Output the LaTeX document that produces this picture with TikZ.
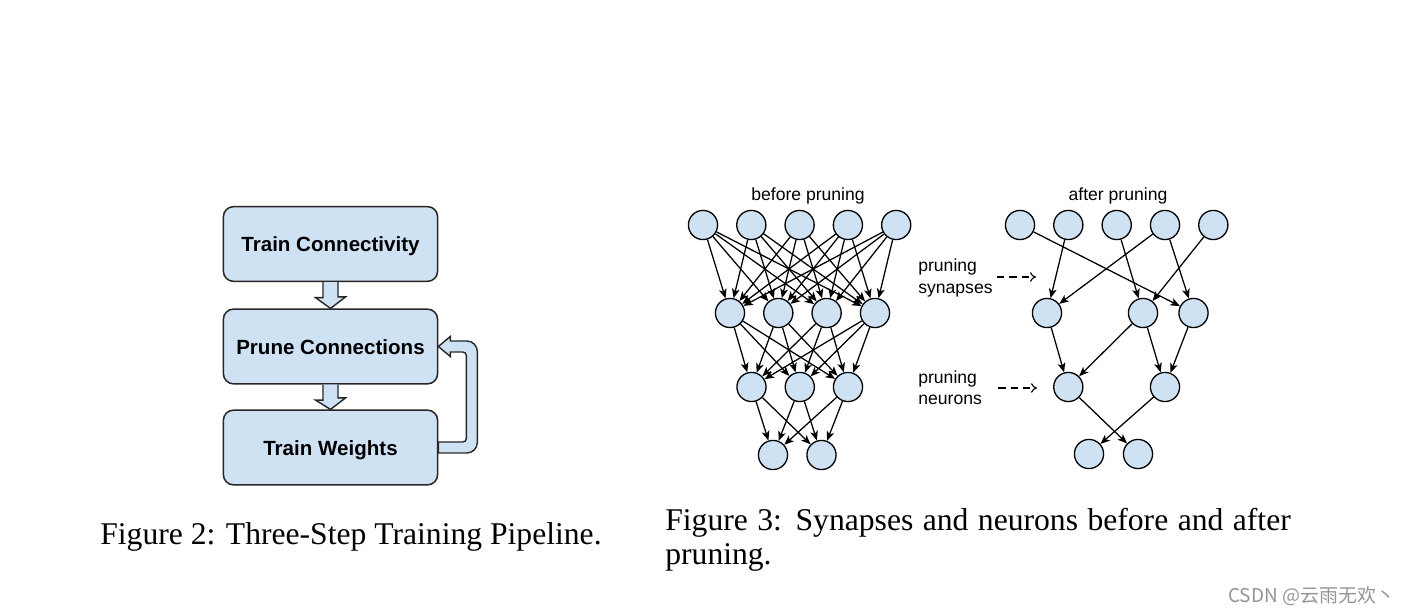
\documentclass[tikz,border=0pt]{standalone}
\usepackage{fontspec}
\setmainfont{Liberation Serif}
\setsansfont{Liberation Sans}
\newfontfamily\cjkfont{Noto Sans CJK SC}
\usetikzlibrary{arrows.meta, calc}
\definecolor{cellblue}{RGB}{207,226,243}

\begin{document}
\begin{tikzpicture}[x=0.02cm, y=-0.02cm, >={Stealth[length=5.4pt, width=4.4pt, inset=1.4pt]},
  stage/.style={draw=black!85, line width=0.85pt, fill=cellblue, rounded corners=5.7pt, minimum width=121.9pt, minimum height=42.5pt, inner sep=0pt, text height=8.6pt, text depth=0pt, font=\sffamily\bfseries\fontsize{11.7}{14}\selectfont},
  blockarrow/.style={draw=black!85, line width=0.8pt, fill=cellblue, line join=miter},
  neuron/.style={circle, draw, line width=0.75pt, fill=cellblue, minimum size=16.6pt, inner sep=0pt},
  syn/.style={->, line width=0.72pt},
  note/.style={inner sep=0pt, align=left, font=\sffamily\fontsize{10}{12}\selectfont},
  hint/.style={-{To[length=3.4pt, width=5.4pt]}, line width=0.65pt, dash pattern=on 4.2pt off 2.8pt},
  caption/.style={inner sep=0pt, font=\fontsize{18}{19.3}\selectfont}]

\useasboundingbox (0,0) rectangle (1404,614);

% three-step pipeline
\node[stage] (connect) at (330.5,244) {Train Connectivity};
\node[stage] (prune) at (330.5,346.5) {Prune Connections};
\node[stage] (weights) at (330.5,447.5) {Train Weights};

\draw[blockarrow] ($(connect.south)+(-7.5,0)$) -- ++(0,15.5) -- ++(-7.5,0) -- (prune.north) -- ++(15,-11.5) -- ++(-7.5,0) -- ($(connect.south)+(7.5,0)$); %step 1 -> 2
\draw[blockarrow] ($(prune.south)+(-7.5,0)$) -- ++(0,15.5) -- ++(-7.5,0) -- (weights.north) -- ++(15,-11.5) -- ++(-7.5,0) -- ($(prune.south)+(7.5,0)$); %step 2 -> 3

\draw[blockarrow] (prune.east) -- ++(12,-10) -- ++(0,4.5) [rounded corners=6pt] -- ($(prune.east)+(39,-5.5)$) -- ($(weights.east)+(39,5.5)$) [sharp corners] -- ($(weights.east)+(0,5.5)$) -- ($(weights.east)+(0,-5.5)$) [rounded corners=2pt] -- ($(weights.east)+(28,-5.5)$) -- ($(prune.east)+(28,5.5)$) [sharp corners] -- ($(prune.east)+(12,5.5)$) -- ++(0,4.5) -- cycle; %iterate

\node[caption, anchor=base west] (capleft) at (100,545) {Figure 2: Three-Step Training Pipeline.};

% before pruning
\node[note, anchor=base] (before) at (808,201) {before pruning};
\foreach \x [count=\i] in {703,751.3,799.6,847.9,896.2} \node[neuron] (b1\i) at (\x,225) {};
\foreach \x [count=\i] in {730,778.3,826.6,875} \node[neuron] (b2\i) at (\x,313) {};
\foreach \x [count=\i] in {751.5,799.8,848} \node[neuron] (b3\i) at (\x,387) {};
\foreach \x [count=\i] in {773,821.5} \node[neuron] (b4\i) at (\x,455) {};

\foreach \i in {1,...,5} \foreach \j in {1,...,4} \draw[syn] (b1\i) -- (b2\j);
\foreach \i in {1,...,4} \foreach \j in {1,...,3} \draw[syn] (b2\i) -- (b3\j);
\foreach \i in {1,...,3} \foreach \j in {1,2} \draw[syn] (b3\i) -- (b4\j);

% after pruning
\node[note, anchor=base] (after) at (1118,201) {after pruning};
\foreach \x [count=\i] in {1020,1068.3,1116.7,1165,1213.3} \node[neuron] (a1\i) at (\x,225) {};
\foreach \x [count=\i] in {1047,1143,1193.5} \node[neuron] (a2\i) at (\x,313) {};
\foreach \x [count=\i] in {1068.3,1165} \node[neuron] (a3\i) at (\x,387) {};
\foreach \x [count=\i] in {1089,1138} \node[neuron] (a4\i) at (\x,454) {};

\foreach \i/\j in {1/3,2/1,3/2,4/1,4/3,5/2} \draw[syn] (a1\i) -- (a2\j);
\foreach \i/\j in {1/1,2/1,2/2,3/2} \draw[syn] (a2\i) -- (a3\j);
\foreach \i/\j in {1/2,2/1} \draw[syn] (a3\i) -- (a4\j);

% side notes
\node[note, anchor=west] (synnote) at (918,278) {pruning\\synapses};
\node[note, anchor=west] (neunote) at (918,388) {pruning\\neurons};
\coordinate (syntip) at (1036,277);
\coordinate (neutip) at (1037,388);
\draw[hint] ($(synnote.east)+(4,-1)$) -- (syntip);
\draw[hint] ($(neunote.east)+(16,0)$) -- (neutip);

\node[caption, anchor=north west, text width=356pt, align=justify] (capright) at (665,508) {Figure 3: Synapses and neurons before and after pruning.};

\node[inner sep=0pt, anchor=west, text=black!42, font=\cjkfont\fontsize{10.8}{12}\selectfont] (mark) at (1228,596) {CSDN @云雨无欢丶};

\end{tikzpicture}
\end{document}
